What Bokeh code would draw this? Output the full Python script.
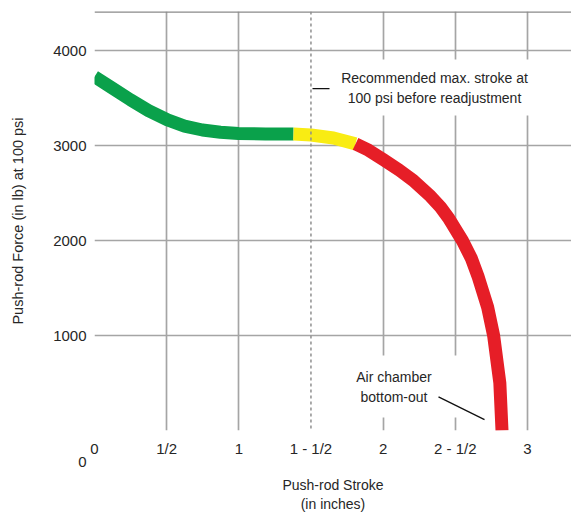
from bokeh.plotting import figure
from bokeh.models import FixedTicker, Span, Label, Arrow, Range1d
from bokeh.embed import file_html
from bokeh.resources import INLINE

# ---------------- data ----------------
stroke_green = [0.0, 0.125, 0.25, 0.374, 0.506, 0.624, 0.748, 0.873, 0.998, 1.185, 1.379]
force_green = [3725, 3605, 3481, 3368, 3270, 3206, 3164, 3141, 3127, 3122, 3122]

stroke_yellow = [1.379, 1.5, 1.656, 1.809]
force_yellow = [3122, 3112, 3080, 3018]

stroke_red = [1.809, 1.899, 2.003, 2.112, 2.209, 2.329, 2.398, 2.454, 2.550, 2.612,
              2.660, 2.724, 2.766, 2.809, 2.824]
force_red = [3018, 2952, 2851, 2742, 2633, 2466, 2352, 2237, 1998, 1811,
             1613, 1301, 999, 500, 0]

x_tick_values = [0, 0.5, 1, 1.5, 2, 2.5, 3]
x_tick_labels = ["0", "1/2", "1", "1 - 1/2", "2", "2 - 1/2", "3"]
x_grid_values = [0, 0.5, 1, 2, 2.5, 3, 3.5]
y_tick_values = [0, 1000, 2000, 3000, 4000]
y_tick_labels = ["\n\n\n0", "1000", "2000", "3000", "4000"]   # the zero sits low, as in the source
y_grid_values = [0, 1000, 2000, 3000, 4000]
recommended_stroke = 1.5

# ---------------- layout helpers (canvas pixels -> data) ----------------
FRAME_LEFT = 94.0
FRAME_TOP = 11.0
FRAME_BOTTOM = 435.0
FRAME_RIGHT = 571.0
PX_PER_IN = 144.3
PX_PER_LB = 0.0961


def dx(px):
    return (px - FRAME_LEFT) / PX_PER_IN


def dy(py):
    return (FRAME_BOTTOM - py) / PX_PER_LB


FONT = "Liberation Sans"
TEXT_COLOR = "#262626"
GRID_COLOR = "#a5a5a5"

p = figure(
    width=571, height=514,
    output_backend="svg", toolbar_location=None,
    x_range=Range1d(0, dx(FRAME_RIGHT)), y_range=Range1d(0, dy(FRAME_TOP)),
    min_border_left=int(FRAME_LEFT), min_border_right=0,
    min_border_top=int(FRAME_TOP), min_border_bottom=514 - int(FRAME_BOTTOM),
)
p.outline_line_color = None
p.background_fill_color = "white"
p.border_fill_color = "white"

# grid
p.xgrid.ticker = FixedTicker(ticks=x_grid_values)
p.ygrid.ticker = FixedTicker(ticks=y_grid_values)
for g in (p.xgrid, p.ygrid):
    g.grid_line_color = GRID_COLOR
    g.grid_line_width = 1.7

# axes
p.xaxis.ticker = FixedTicker(ticks=x_tick_values)
p.xaxis.major_label_overrides = {v: t for v, t in zip(x_tick_values, x_tick_labels)}
p.yaxis.ticker = FixedTicker(ticks=y_tick_values)
p.yaxis.major_label_overrides = {v: t for v, t in zip(y_tick_values, y_tick_labels)}
for ax in (p.xaxis[0], p.yaxis[0]):
    ax.axis_line_color = None
    ax.major_tick_line_color = None
    ax.minor_tick_line_color = None
    ax.major_tick_out = 0
    ax.major_tick_in = 0
    ax.major_label_text_font = FONT
    ax.major_label_text_font_size = "15px"
    ax.major_label_text_color = TEXT_COLOR
    ax.axis_label_text_font = FONT
    ax.axis_label_text_font_style = "normal"
    ax.axis_label_text_color = TEXT_COLOR
p.xaxis.major_label_standoff = 9
p.yaxis.major_label_standoff = 8

p.xaxis.axis_label = "Push-rod Stroke\n(in inches)"
p.xaxis.axis_label_text_font_size = "14px"
p.xaxis.axis_label_text_line_height = 1.2
p.xaxis.axis_label_standoff = 17

p.yaxis.axis_label = "Push-rod Force (in lb) at 100 psi"
p.yaxis.axis_label_text_font_size = "14.5px"
p.yaxis.axis_label_standoff = 24

# top border and dashed recommended line
p.add_layout(Span(location=dy(FRAME_TOP), dimension="width", line_color="#8a8a8a", line_width=2.5))
p.add_layout(Span(location=recommended_stroke, dimension="height", line_color="#8f8f8f",
                  line_width=1.5, line_dash="3 3"))

# curve
LW = 13
p.line(stroke_green, force_green, line_color="#0aa14b", line_width=LW, line_cap="butt", line_join="round")
p.line(stroke_yellow, force_yellow, line_color="#f9ec13", line_width=LW, line_cap="butt", line_join="round")
p.line(stroke_red, force_red, line_color="#e61e27", line_width=LW, line_cap="butt", line_join="round")

# annotations
p.add_layout(Label(
    x=dx(434), y=dy(88), text="Recommended max. stroke at\n100 psi before readjustment",
    text_font=FONT, text_font_size="14px", text_color=TEXT_COLOR,
    text_align="center", text_baseline="middle", text_line_height=1.25,
    background_fill_color="white", padding=dict(left=10, right=10, top=10, bottom=10),
))
p.add_layout(Arrow(end=None, x_start=dx(312), y_start=dy(89), x_end=dx(329), y_end=dy(89),
                   line_color="#111111", line_width=1.3))

p.add_layout(Label(
    x=dx(393.5), y=dy(390.5), text="Air chamber\nbottom-out",
    text_font=FONT, text_font_size="14px", text_color=TEXT_COLOR,
    text_align="center", text_baseline="middle", text_line_height=1.25,
    background_fill_color="white", padding=dict(left=26, right=26, top=13, bottom=13),
))
p.add_layout(Arrow(end=None, x_start=dx(438), y_start=dy(401), x_end=dx(484), y_end=dy(424),
                   line_color="#111111", line_width=1.3))

open("out.html", "w").write(file_html(p, INLINE))
